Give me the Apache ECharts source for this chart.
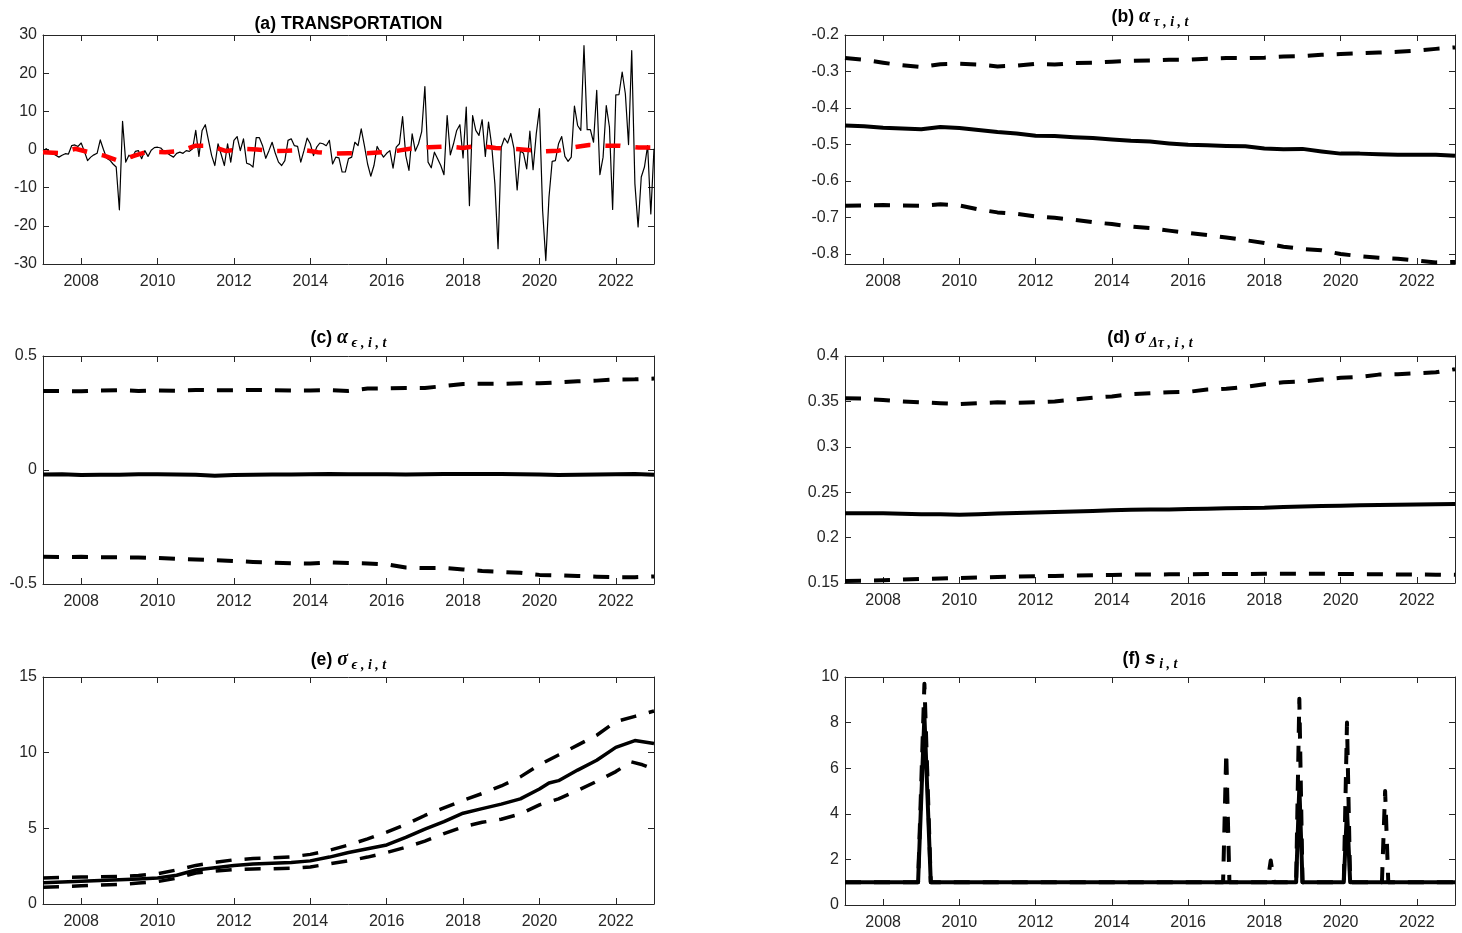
<!DOCTYPE html>
<html>
<head>
<meta charset="utf-8">
<script src="https://cdn.jsdelivr.net/npm/echarts@6/dist/echarts.min.js"></script>
<style>
  html, body { margin: 0; padding: 0; background: #fff; }
  #chart { width: 1462px; height: 933px; }
</style>
</head>
<body>
<div id="chart"></div>
<script>
// ---- data -------------------------------------------------------------
// x range shared by every panel (decimal years) and its tick labels
const xRange = [2007, 2023];
const xTicks = [2008, 2010, 2012, 2014, 2016, 2018, 2020, 2022];

// (a) monthly transportation inflation, Jan 2007 .. Jan 2023
const transportStart = 2007;
const transport = [
  -0.3, 0.2, -0.6, -1.0, -1.5, -2.0, -1.5, -1.1, -1.2, 1.0, 1.2, 0.8,
  1.7, -0.5, -2.9, -2.0, -1.4, -1.0, 2.5, 0.0, -2.3, -2.8, -3.8, -4.6,
  -15.8, 7.4, -3.3, -1.5, -2.2, -0.5, -0.3, -2.4, -0.3, -1.8, -0.2, 0.5,
  0.6, 0.4, -0.5, -0.9, -1.5, -2.0, -1.0, -0.7, -1.0, -0.3, -0.5, 0.2,
  5.0, -1.8, 5.0, 6.5, 2.4, -1.6, -4.2, 1.5, -1.3, -4.2, 1.5, -3.3,
  2.4, 3.4, -0.3, 2.8, -3.6, -3.9, -4.6, 3.1, 3.1, 1.0, -2.3, -0.3,
  1.9, -1.0, -3.3, -4.2, -2.9, 2.4, 2.8, 1.0, 0.8, -3.3, -0.3, 3.0,
  1.5, -1.6, 0.6, 1.7, 1.5, 1.0, 2.4, -3.8, -2.0, -2.2, -5.9, -5.9,
  -2.4, -2.0, 1.9, 1.0, 5.4, 1.0, -3.8, -7.0, -4.2, 0.8, -0.7, -2.0,
  -1.0, -0.3, -4.9, 0.6, 1.5, 8.6, -1.6, -5.5, 4.1, -0.4, 1.5, 4.7,
  16.5, -3.3, -4.8, -0.7, -2.4, -4.2, -6.6, 8.9, -1.4, 1.5, 5.0, 6.5,
  -2.2, 11.1, -14.7, 8.9, 5.0, 3.7, 7.8, -1.8, 7.2, 1.0, -9.0, -26.0,
  0.6, 3.0, 1.7, 4.2, 0.2, -10.6, -0.4, -1.0, -5.1, 4.8, -5.3, 4.1,
  10.7, -16.0, -29.1, -12.5, -3.1, -2.9, 1.5, 3.4, -1.8, -3.1, -2.0, 11.4,
  6.3, 5.0, 27.2, 5.2, 5.2, 1.9, 15.5, -6.6, -2.0, 11.5, 5.9, -15.7,
  14.3, 14.4, 20.3, 14.6, 1.3, 25.9, -9.0, -20.3, -7.2, -4.6, 1.0, -16.9,
  0.2
];
// (a) trend component [year, value]
const transportTrend = [
  [2007.0, -0.7], [2007.4, -0.9], [2007.85, 0.2], [2008.2, -0.7], [2008.6, -1.6],
  [2009.0, -3.0], [2009.4, -1.6], [2009.75, -0.5], [2010.2, -0.7], [2010.6, -0.4],
  [2011.0, 1.0], [2011.35, 1.0], [2011.8, -0.4], [2012.2, 0.2], [2012.6, 0.0],
  [2013.0, -0.4], [2013.4, -0.3], [2013.8, -0.1], [2014.2, -0.7], [2014.6, -1.1],
  [2015.0, -1.0], [2015.45, -1.0], [2015.9, -0.7], [2016.3, -0.3], [2016.75, 0.4],
  [2017.1, 0.6], [2017.6, 0.8], [2018.0, 0.4], [2018.4, 1.0], [2018.85, 0.4],
  [2019.25, 0.2], [2019.7, -0.1], [2020.1, -0.5], [2020.5, -0.3], [2020.9, 0.6],
  [2021.3, 1.2], [2021.75, 1.0], [2022.1, 1.0], [2022.6, 0.5], [2023.0, 0.5]
];

// half-year sample dates used by panels (b)-(d)
const halfYears = [
  2007, 2007.5, 2008, 2008.5, 2009, 2009.5, 2010, 2010.5, 2011, 2011.5,
  2012, 2012.5, 2013, 2013.5, 2014, 2014.5, 2015, 2015.5, 2016, 2016.5,
  2017, 2017.5, 2018, 2018.5, 2019, 2019.5, 2020, 2020.5, 2021, 2021.5,
  2022, 2022.5, 2023
];

// (b) alpha_tau: median and band
const alphaTauMed = [-0.448, -0.450, -0.454, -0.456, -0.458, -0.452, -0.455, -0.460, -0.466, -0.470,
  -0.476, -0.477, -0.480, -0.482, -0.486, -0.490, -0.492, -0.497, -0.501, -0.502,
  -0.504, -0.505, -0.511, -0.513, -0.512, -0.519, -0.525, -0.525, -0.527, -0.528,
  -0.528, -0.528, -0.531];
const alphaTauHi = [-0.263, -0.268, -0.276, -0.283, -0.288, -0.280, -0.279, -0.281, -0.286, -0.284,
  -0.279, -0.281, -0.277, -0.276, -0.273, -0.271, -0.270, -0.268, -0.268, -0.265,
  -0.263, -0.263, -0.262, -0.259, -0.258, -0.254, -0.252, -0.250, -0.248, -0.246,
  -0.243, -0.238, -0.234];
const alphaTauLo = [-0.668, -0.667, -0.666, -0.667, -0.668, -0.664, -0.667, -0.678, -0.686, -0.690,
  -0.697, -0.701, -0.706, -0.713, -0.718, -0.725, -0.729, -0.736, -0.742, -0.748,
  -0.755, -0.762, -0.770, -0.780, -0.786, -0.790, -0.800, -0.806, -0.810, -0.813,
  -0.818, -0.823, -0.822];

// (c) alpha_eps: median and band
const alphaEpsMed = [-0.020, -0.019, -0.022, -0.021, -0.021, -0.019, -0.019, -0.020, -0.021, -0.025,
  -0.022, -0.021, -0.020, -0.020, -0.019, -0.018, -0.019, -0.019, -0.019, -0.020,
  -0.019, -0.018, -0.018, -0.017, -0.017, -0.019, -0.020, -0.022, -0.021, -0.020,
  -0.019, -0.018, -0.021];
const alphaEpsHi = [0.347, 0.346, 0.345, 0.349, 0.350, 0.347, 0.349, 0.348, 0.351, 0.350,
  0.350, 0.351, 0.350, 0.349, 0.349, 0.350, 0.347, 0.357, 0.358, 0.360,
  0.360, 0.368, 0.377, 0.378, 0.378, 0.380, 0.380, 0.384, 0.389, 0.392,
  0.397, 0.398, 0.401];
const alphaEpsLo = [-0.381, -0.382, -0.381, -0.383, -0.383, -0.384, -0.386, -0.390, -0.392, -0.395,
  -0.399, -0.403, -0.406, -0.409, -0.410, -0.405, -0.408, -0.410, -0.414, -0.428,
  -0.430, -0.430, -0.436, -0.443, -0.447, -0.451, -0.460, -0.462, -0.465, -0.468,
  -0.470, -0.470, -0.467];

// (d) sigma_dtau: median and band
const sigDTauMed = [0.2268, 0.2268, 0.2267, 0.2264, 0.2258, 0.2257, 0.2252, 0.2258, 0.2265, 0.2272,
  0.2277, 0.2282, 0.2287, 0.2293, 0.2300, 0.2308, 0.2309, 0.2309, 0.2315, 0.2318,
  0.2323, 0.2327, 0.2330, 0.2338, 0.2343, 0.2347, 0.2352, 0.2355, 0.2358, 0.2362,
  0.2365, 0.2368, 0.2370];
const sigDTauHi = [0.3535, 0.3530, 0.3515, 0.3500, 0.3490, 0.3480, 0.3470, 0.3480, 0.3490, 0.3485,
  0.3490, 0.3500, 0.3520, 0.3540, 0.3555, 0.3580, 0.3590, 0.3600, 0.3605, 0.3630,
  0.3640, 0.3660, 0.3690, 0.3710, 0.3720, 0.3740, 0.3760, 0.3770, 0.3795, 0.3800,
  0.3810, 0.3820, 0.3855];
const sigDTauLo = [0.1522, 0.1524, 0.1530, 0.1538, 0.1545, 0.1550, 0.1555, 0.1560, 0.1566, 0.1570,
  0.1574, 0.1578, 0.1582, 0.1585, 0.1588, 0.1592, 0.1594, 0.1595, 0.1597, 0.1598,
  0.1600, 0.1600, 0.1601, 0.1601, 0.1602, 0.1602, 0.1600, 0.1598, 0.1596, 0.1594,
  0.1593, 0.1592, 0.1590];

// (e) sigma_eps: [year, value]
const sigEpsMed = [[2007, 1.40], [2007.5, 1.45], [2008, 1.50], [2008.5, 1.55], [2009, 1.60], [2009.5, 1.65],
  [2010, 1.72], [2010.5, 1.90], [2011, 2.25], [2011.5, 2.40], [2012, 2.55], [2012.5, 2.65],
  [2013, 2.70], [2013.5, 2.75], [2014, 2.85], [2014.5, 3.10], [2015, 3.40], [2015.5, 3.65],
  [2016, 3.90], [2016.5, 4.40], [2017, 4.95], [2017.5, 5.45], [2018, 6.00], [2018.5, 6.30],
  [2019, 6.60], [2019.5, 6.95], [2020, 7.60], [2020.25, 8.00], [2020.5, 8.15], [2021, 8.85],
  [2021.5, 9.50], [2022, 10.35], [2022.5, 10.80], [2023, 10.60]];
const sigEpsHi = [[2007, 1.72], [2007.5, 1.75], [2008, 1.78], [2008.5, 1.80], [2009, 1.82], [2009.5, 1.88],
  [2010, 2.00], [2010.5, 2.25], [2011, 2.55], [2011.5, 2.75], [2012, 2.92], [2012.5, 3.00],
  [2013, 3.05], [2013.5, 3.12], [2014, 3.28], [2014.5, 3.55], [2015, 3.90], [2015.5, 4.30],
  [2016, 4.75], [2016.5, 5.25], [2017, 5.85], [2017.5, 6.35], [2018, 6.85], [2018.5, 7.30],
  [2019, 7.80], [2019.5, 8.40], [2020, 9.20], [2020.5, 9.85], [2021, 10.50], [2021.5, 11.15],
  [2022, 12.05], [2022.5, 12.40], [2023, 12.75]];
const sigEpsLo = [[2007, 1.10], [2007.5, 1.15], [2008, 1.20], [2008.5, 1.25], [2009, 1.30], [2009.5, 1.38],
  [2010, 1.48], [2010.5, 1.70], [2011, 2.05], [2011.5, 2.18], [2012, 2.28], [2012.5, 2.32],
  [2013, 2.33], [2013.5, 2.36], [2014, 2.45], [2014.5, 2.65], [2015, 2.85], [2015.5, 3.10],
  [2016, 3.40], [2016.5, 3.75], [2017, 4.15], [2017.5, 4.65], [2018, 5.10], [2018.5, 5.40],
  [2019, 5.60], [2019.5, 5.95], [2020, 6.55], [2020.5, 6.95], [2021, 7.50], [2021.5, 8.10],
  [2022, 8.75], [2022.4, 9.40], [2022.7, 9.20], [2023, 8.90]];

// (f) outlier scale s: breakpoints [year, value]; flat at 1 between spikes
const outlierMed = [[2007, 1], [2008.917, 1], [2009.083, 8.3], [2009.25, 1],
  [2018.833, 1], [2018.917, 5.2], [2019.0, 1],
  [2020.083, 1], [2020.167, 4.2], [2020.25, 1], [2023, 1]];
const outlierHi = [[2007, 1], [2008.917, 1], [2009.083, 9.7], [2009.25, 1],
  [2016.917, 1], [2017.0, 6.7], [2017.083, 1],
  [2018.083, 1], [2018.167, 1.95], [2018.25, 1],
  [2018.833, 1], [2018.917, 9.05], [2019.0, 1],
  [2020.083, 1], [2020.167, 8.0], [2020.25, 1],
  [2021.083, 1], [2021.167, 5.0], [2021.25, 1], [2023, 1]];

// y ranges and tick values per panel
const yRangeA = [-30, 30], yTicksA = [-30, -20, -10, 0, 10, 20, 30];
const yRangeB = [-0.8274, -0.2], yTicksB = [-0.8, -0.7, -0.6, -0.5, -0.4, -0.3, -0.2];
const yRangeC = [-0.5, 0.5], yTicksC = [-0.5, 0, 0.5];
const yRangeD = [0.15, 0.4], yTicksD = [0.15, 0.2, 0.25, 0.3, 0.35, 0.4];
const yRangeE = [0, 15], yTicksE = [0, 5, 10, 15];
const yRangeF = [0, 10], yTicksF = [0, 2, 4, 6, 8, 10];

// ---- layout & style ---------------------------------------------------
const grids = [
  { left: 43, top: 35, width: 611, height: 229 },
  { left: 845, top: 35, width: 610, height: 229 },
  { left: 43, top: 356, width: 611, height: 228 },
  { left: 845, top: 356, width: 610, height: 227 },
  { left: 43, top: 677, width: 611, height: 227 },
  { left: 845, top: 677, width: 610, height: 228 }
];
const yRanges = [yRangeA, yRangeB, yRangeC, yRangeD, yRangeE, yRangeF];
const yTicks = [yTicksA, yTicksB, yTicksC, yTicksD, yTicksE, yTicksF];

const AXIS_COLOR = '#262626';
const SANS = "'Liberation Sans', Arial, Helvetica, sans-serif";
const SERIF = "'Liberation Serif', 'DejaVu Serif', 'Times New Roman', serif";
const DASH = [16, 13];

const fmt = v => String(+(+v).toFixed(2));

function pairs(xs, ys) { return xs.map((x, i) => [x, ys[i]]); }

const xAxes = [], yAxes = [];
grids.forEach((g, i) => {
  ['bottom', 'top'].forEach(pos => {
    xAxes.push({
      type: 'value', gridIndex: i, position: pos,
      min: xRange[0], max: xRange[1],
      axisLine: { show: true, onZero: false, lineStyle: { color: AXIS_COLOR, width: 1 } },
      axisTick: { show: true, inside: true, length: 6, customValues: xTicks, lineStyle: { color: AXIS_COLOR } },
      axisLabel: {
        show: pos === 'bottom', customValues: xTicks, formatter: fmt,
        fontFamily: SANS, fontSize: 16, color: AXIS_COLOR, margin: 10
      },
      splitLine: { show: false }
    });
  });
  ['left', 'right'].forEach(pos => {
    yAxes.push({
      type: 'value', gridIndex: i, position: pos,
      min: yRanges[i][0], max: yRanges[i][1],
      axisLine: { show: true, onZero: false, lineStyle: { color: AXIS_COLOR, width: 1 } },
      axisTick: { show: true, inside: true, length: 6, customValues: yTicks[i], lineStyle: { color: AXIS_COLOR } },
      axisLabel: {
        show: pos === 'left', customValues: yTicks[i], formatter: fmt,
        fontFamily: SANS, fontSize: 16, color: AXIS_COLOR, margin: 6
      },
      splitLine: { show: false }
    });
  });
});

function line(panel, data, opts) {
  return {
    type: 'line', xAxisIndex: panel * 2, yAxisIndex: panel * 2,
    data: data, showSymbol: false, symbol: 'none', clip: true,
    animation: false, silent: true,
    lineStyle: Object.assign({ color: '#000', width: 4, cap: 'butt', join: 'round' }, opts)
  };
}

const series = [
  line(0, transport.map((v, k) => [transportStart + k / 12, v]), { width: 1.2 }),
  line(0, transportTrend, { color: '#ff0000', width: 4.5, type: [15, 15] }),

  line(1, pairs(halfYears, alphaTauHi), { type: DASH }),
  line(1, pairs(halfYears, alphaTauMed), {}),
  line(1, pairs(halfYears, alphaTauLo), { type: DASH }),

  line(2, pairs(halfYears, alphaEpsHi), { type: DASH }),
  line(2, pairs(halfYears, alphaEpsMed), {}),
  line(2, pairs(halfYears, alphaEpsLo), { type: DASH }),

  line(3, pairs(halfYears, sigDTauHi), { type: DASH }),
  line(3, pairs(halfYears, sigDTauMed), {}),
  line(3, pairs(halfYears, sigDTauLo), { type: DASH }),

  line(4, sigEpsHi, { type: DASH, width: 3.5 }),
  line(4, sigEpsMed, { width: 3.5 }),
  line(4, sigEpsLo, { type: DASH, width: 3.5 }),

  line(5, outlierHi, { type: DASH }),
  line(5, outlierMed, {})
];

// panel titles (rich text: bold label, greek symbol, lowered subscript)
const rich = {
  n: { fontFamily: SANS, fontWeight: 'bold', fontSize: 17.6, color: '#000', lineHeight: 22 },
  g: { fontFamily: SERIF, fontStyle: 'italic', fontWeight: 'bold', fontSize: 20, color: '#000', lineHeight: 22 },
  b: { fontFamily: SANS, fontStyle: 'italic', fontWeight: 'bold', fontSize: 19, color: '#000', lineHeight: 22 },
  s: { fontFamily: SERIF, fontStyle: 'italic', fontWeight: 'bold', fontSize: 14, color: '#000', lineHeight: 14, padding: [10, 0, 0, 0] }
};
const titles = [
  '{n|(a) TRANSPORTATION}',
  '{n|(b) }{g|α}{s| τ , i , t}',
  '{n|(c) }{g|α}{s| ϵ , i , t}',
  '{n|(d) }{g|σ}{s| Δτ , i , t}',
  '{n|(e) }{g|σ}{s| ϵ , i , t}',
  '{n|(f) }{b|s}{s| i , t}'
];
const titleLift = [0, 7, 7, 7, 6, 7];
const graphic = grids.map((g, i) => ({
  type: 'text', silent: true,
  x: g.left + g.width / 2,
  y: g.top - titleLift[i],
  style: { text: titles[i], rich: rich, align: 'center', verticalAlign: 'bottom' }
}));

const chart = echarts.init(document.getElementById('chart'), null, { renderer: 'canvas' });
chart.setOption({
  backgroundColor: '#fff',
  animation: false,
  grid: grids.map(g => Object.assign({ containLabel: false }, g)),
  xAxis: xAxes,
  yAxis: yAxes,
  series: series,
  graphic: graphic
});
</script>
</body>
</html>
